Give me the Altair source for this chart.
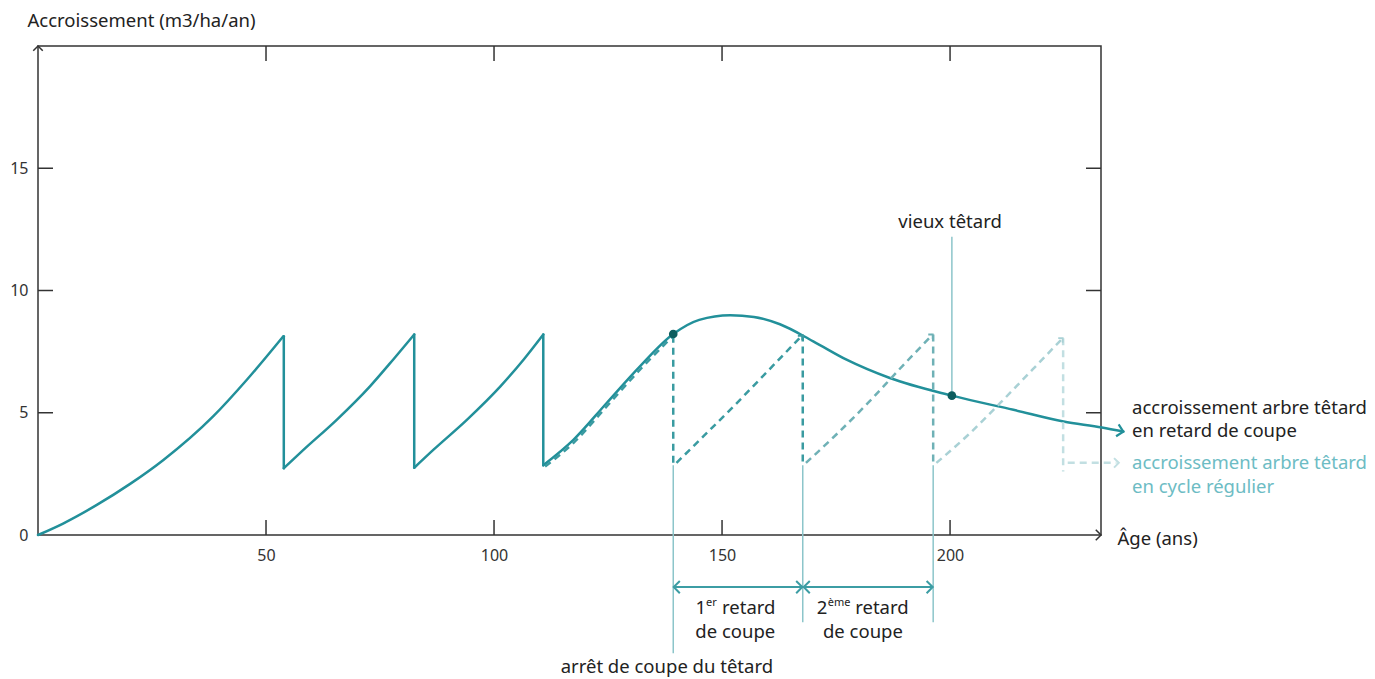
import altair as alt
import pandas as pd

# ---------------- data ----------------
# solid curve: increment of the pollard tree, regular cuts then delayed cut
seg1_x = [0, 5.5, 12.9, 20.2, 27.5, 38.4, 45.8, 53.8]
seg1_y = [0, 0.47, 1.23, 2.09, 3.07, 4.85, 6.35, 8.13]
seg2_x = [53.9, 58.2, 65.5, 72.8, 78.0, 82.5]
seg2_y = [2.73, 3.48, 4.71, 6.08, 7.2, 8.2]
seg3_x = [82.5, 86.8, 94.1, 101.4, 106.6, 110.8]
seg3_y = [2.75, 3.5, 4.72, 6.08, 7.2, 8.2]
seg4_x = [110.8, 117.4, 124.7, 132.0, 139.3, 145.0, 151.8, 157.0, 162.7, 170.0,
          177.3, 186.8, 200.4, 213.9, 224.9, 233.3, 238.0]
seg4_y = [2.85, 3.89, 5.4, 6.9, 8.22, 8.8, 8.99, 8.92, 8.62, 7.92,
          7.17, 6.42, 5.7, 5.12, 4.64, 4.4, 4.23]
drop_x = [53.9, 82.5, 110.8]
drop_top = [8.13, 8.2, 8.2]
drop_bot = [2.73, 2.75, 2.85]

# dashed curve: increment in a regular cycle
dA_x = [111.2, 117.6, 124.9, 132.2, 139.3]
dA_y = [2.8, 3.8, 5.3, 6.8, 8.15]
dB_x = [140.0, 146.0, 153.0, 160.0, 167.5]
dB_y = [2.95, 4.05, 5.35, 6.7, 8.15]
dC_x = [168.4, 175.0, 182.0, 189.0, 196.2]
dC_y = [2.95, 4.1, 5.4, 6.8, 8.2]
dD_x = [197.0, 204.0, 211.0, 218.0, 224.7]
dD_y = [2.95, 4.1, 5.4, 6.75, 8.05]
dE_x = [225.8, 236.5]
dE_y = [2.95, 2.95]
ddrop_x = [139.3, 167.7, 196.3, 224.8]
ddrop_top = [8.15, 8.2, 8.2, 8.05]
ddrop_bot = [2.85, 2.85, 2.85, 2.6]

# annotation guide lines
guide_x = [139.3, 167.7, 196.3, 200.4]
guide_top = [2.85, 2.85, 2.85, 12.2]
guide_bot = [-4.84, -3.57, -3.57, 5.7]
span_x1 = [139.5, 168.0]
span_x2 = [167.5, 196.1]
span_y = [-2.13, -2.13]

# marked points
dot_x = [139.3, 200.4]
dot_y = [8.22, 5.7]

x_ticks = [50, 100, 150, 200]
y_ticks = [5, 10, 15]

# ---------------- colours ----------------
C_SOLID = "#22909a"
C_DARK = "#3a9ba1"
C_MED = "#6fb1b6"
C_LIGHT = "#a9d1d5"
C_LIGHTER = "#c2dfe2"
C_GUIDE = "#8cc5ca"
C_SPAN = "#3c9da4"
C_DOT = "#0d5d5e"
C_TEXT = "#222222"
C_TEXT2 = "#6dbcc4"
C_FRAME = "#333333"
FONT = "Noto Sans"
FS = 18.5

# ---------------- tables ----------------
def build(segs):
    rows = []
    for name, xs_, ys_, col in segs:
        for a, b in zip(xs_, ys_):
            rows.append({"x": a, "y": b, "seg": name, "col": col})
    return pd.DataFrame(rows)

solid_df = build([("s1", seg1_x, seg1_y, C_SOLID), ("s2", seg2_x, seg2_y, C_SOLID),
                  ("s3", seg3_x, seg3_y, C_SOLID), ("s4", seg4_x, seg4_y, C_SOLID)])
dash_df = build([("dA", dA_x, dA_y, C_DARK), ("dB", dB_x, dB_y, C_DARK),
                 ("dC", dC_x, dC_y, C_MED), ("dD", dD_x, dD_y, C_LIGHT),
                 ("dE", dE_x, dE_y, C_LIGHTER)])
drop_df = pd.DataFrame({"x": drop_x, "y": drop_top, "y2": drop_bot})
ddrop_df = pd.DataFrame({"x": ddrop_x, "y": ddrop_top, "y2": ddrop_bot,
                         "col": [C_DARK, C_DARK, C_MED, C_LIGHTER]})
guide_df = pd.DataFrame({"x": guide_x, "y": guide_top, "y2": guide_bot})
span_df = pd.DataFrame({"x": span_x1, "x2": span_x2, "y": span_y})
dot_df = pd.DataFrame({"x": dot_x, "y": dot_y})

chev_df = pd.DataFrame([
    {"x": 0, "y": 20.0, "ang": 270, "sz": 90, "col": C_FRAME, "sw": 1.5},
    {"x": 233.1, "y": 0, "ang": 0, "sz": 110, "col": C_FRAME, "sw": 1.5},
    {"x": 238.0, "y": 4.23, "ang": 12, "sz": 150, "col": C_SOLID, "sw": 2.2},
    {"x": 237.0, "y": 2.95, "ang": 0, "sz": 90, "col": C_LIGHTER, "sw": 2.0},
    {"x": 139.4, "y": -2.13, "ang": 180, "sz": 150, "col": C_SPAN, "sw": 2.0},
    {"x": 167.6, "y": -2.13, "ang": 0, "sz": 150, "col": C_SPAN, "sw": 2.0},
    {"x": 167.9, "y": -2.13, "ang": 180, "sz": 150, "col": C_SPAN, "sw": 2.0},
    {"x": 196.2, "y": -2.13, "ang": 0, "sz": 150, "col": C_SPAN, "sw": 2.0},
    {"x": 167.6, "y": 8.15, "ang": 315, "sz": 40, "col": C_DARK, "sw": 1.8},
    {"x": 196.2, "y": 8.2, "ang": 315, "sz": 40, "col": C_MED, "sw": 1.8},
    {"x": 224.7, "y": 8.05, "ang": 315, "sz": 40, "col": C_LIGHT, "sw": 1.8},
])

text_c = pd.DataFrame([
    {"x": 200.0, "y": 12.79, "t": "vieux têtard", "col": C_TEXT, "fs": FS},
    {"x": 137.9, "y": -5.4, "t": "arrêt de coupe du têtard", "col": C_TEXT, "fs": FS},
    {"x": 152.9, "y": -3.98, "t": "de coupe", "col": C_TEXT, "fs": FS},
    {"x": 180.9, "y": -3.98, "t": "de coupe", "col": C_TEXT, "fs": FS},
])
text_l = pd.DataFrame([
    {"x": 146.5, "y": -2.8, "t": "er", "col": C_TEXT, "fs": 11},
    {"x": 150.0, "y": -2.99, "t": "retard", "col": C_TEXT, "fs": FS},
    {"x": 173.2, "y": -2.8, "t": "ème", "col": C_TEXT, "fs": 11},
    {"x": 179.2, "y": -2.99, "t": "retard", "col": C_TEXT, "fs": FS},
    {"x": 239.9, "y": 5.2, "t": "accroissement arbre têtard", "col": C_TEXT, "fs": FS},
    {"x": 239.9, "y": 4.26, "t": "en retard de coupe", "col": C_TEXT, "fs": FS},
    {"x": 239.9, "y": 2.95, "t": "accroissement arbre têtard", "col": C_TEXT2, "fs": FS},
    {"x": 239.9, "y": 1.97, "t": "en cycle régulier", "col": C_TEXT2, "fs": FS},
])
text_r = pd.DataFrame([
    {"x": 146.5, "y": -2.99, "t": "1", "col": C_TEXT, "fs": FS},
    {"x": 173.1, "y": -2.99, "t": "2", "col": C_TEXT, "fs": FS},
])

yt_df = pd.DataFrame({"v": y_ticks})
xt_df = pd.DataFrame({"v": x_ticks})

# ---------------- scales / axes ----------------
W, H = 1063, 489
xs = alt.Scale(domain=[0, 233.1], nice=False, zero=False)
ys = alt.Scale(domain=[0, 20], nice=False, zero=False)

x_axis = alt.Axis(values=x_ticks, ticks=False, domain=False, grid=False,
                  labelFontSize=16, labelColor="#333", labelPadding=12, labelFlush=False,
                  title="Âge (ans)", titleX=1079, titleY=3, titleAlign="left",
                  titleBaseline="middle", titleAngle=0, titleFontSize=FS,
                  titleFontWeight="normal", titleColor=C_TEXT)
y_axis = alt.Axis(values=[0] + y_ticks, ticks=False, domain=False, grid=False,
                  labelFontSize=16, labelColor="#333", labelPadding=10, labelFlush=False,
                  title="Accroissement (m3/ha/an)", titleX=-11, titleY=-26,
                  titleAlign="left", titleBaseline="middle", titleAngle=0,
                  titleFontSize=FS, titleFontWeight="normal", titleColor=C_TEXT)


def X(f="x"):
    return alt.X(f"{f}:Q", scale=xs, axis=x_axis)


def Y(f="y"):
    return alt.Y(f"{f}:Q", scale=ys, axis=y_axis)


solid = alt.Chart(solid_df).mark_line(
    interpolate="monotone", strokeWidth=2.5, color=C_SOLID, strokeCap="round"
).encode(x=X(), y=Y(), detail="seg:N")

solid_drop = alt.Chart(drop_df).mark_rule(strokeWidth=2.5, color=C_SOLID, strokeCap="round").encode(
    x=X(), y=Y(), y2="y2:Q")

dashed = alt.Chart(dash_df).mark_line(
    interpolate="monotone", strokeWidth=2.5, strokeDash=[7, 5]
).encode(x=X(), y=Y(), detail="seg:N", color=alt.Color("col:N", scale=None))

dashed_drop = alt.Chart(ddrop_df).mark_rule(strokeWidth=2.5, strokeDash=[7, 5]).encode(
    x=X(), y=Y(), y2="y2:Q", color=alt.Color("col:N", scale=None))

guides = alt.Chart(guide_df).mark_rule(strokeWidth=1.5, color=C_GUIDE).encode(
    x=X(), y=Y(), y2="y2:Q")

spans = alt.Chart(span_df).mark_rule(strokeWidth=2, color=C_SPAN).encode(
    x=X(), x2="x2:Q", y=Y())

chevrons = alt.Chart(chev_df).mark_point(
    shape="M-1,-1L0,0L-1,1", filled=False, opacity=1
).encode(x=X(), y=Y(), angle=alt.Angle("ang:Q", scale=None),
         size=alt.Size("sz:Q", scale=None), color=alt.Color("col:N", scale=None),
         strokeWidth=alt.StrokeWidth("sw:Q", scale=None))

dots = alt.Chart(dot_df).mark_point(filled=True, size=75, color=C_DOT, opacity=1).encode(
    x=X(), y=Y())

tick_l = alt.Chart(yt_df).mark_rule(color=C_FRAME, strokeWidth=1.5).encode(
    y=Y("v"), x=alt.value(0), x2=alt.value(15))
tick_r = alt.Chart(yt_df).mark_rule(color=C_FRAME, strokeWidth=1.5).encode(
    y=Y("v"), x=alt.value(W - 15), x2=alt.value(W))
tick_b = alt.Chart(xt_df).mark_rule(color=C_FRAME, strokeWidth=1.5).encode(
    x=X("v"), y=alt.value(H - 15), y2=alt.value(H))
tick_t = alt.Chart(xt_df).mark_rule(color=C_FRAME, strokeWidth=1.5).encode(
    x=X("v"), y=alt.value(0), y2=alt.value(15))


def texts(df, align):
    return alt.Chart(df).mark_text(align=align, baseline="middle", font=FONT).encode(
        x=X(), y=Y(), text="t:N", color=alt.Color("col:N", scale=None),
        size=alt.Size("fs:Q", scale=None))


chart = alt.layer(
    solid, tick_l, tick_r, tick_b, tick_t,
    dashed, dashed_drop, solid_drop, guides, spans, chevrons, dots,
    texts(text_c, "center"), texts(text_l, "left"), texts(text_r, "right"),
).properties(
    width=W, height=H,
    padding={"left": 30, "top": 38, "right": 266, "bottom": 145},
    autosize=alt.AutoSizeParams(type="none"),
).configure_view(
    stroke=C_FRAME, strokeWidth=1.5
).configure_axis(
    labelFont=FONT, titleFont=FONT
)

chart.save("out.html", embed_options={"renderer": "svg", "actions": False})
